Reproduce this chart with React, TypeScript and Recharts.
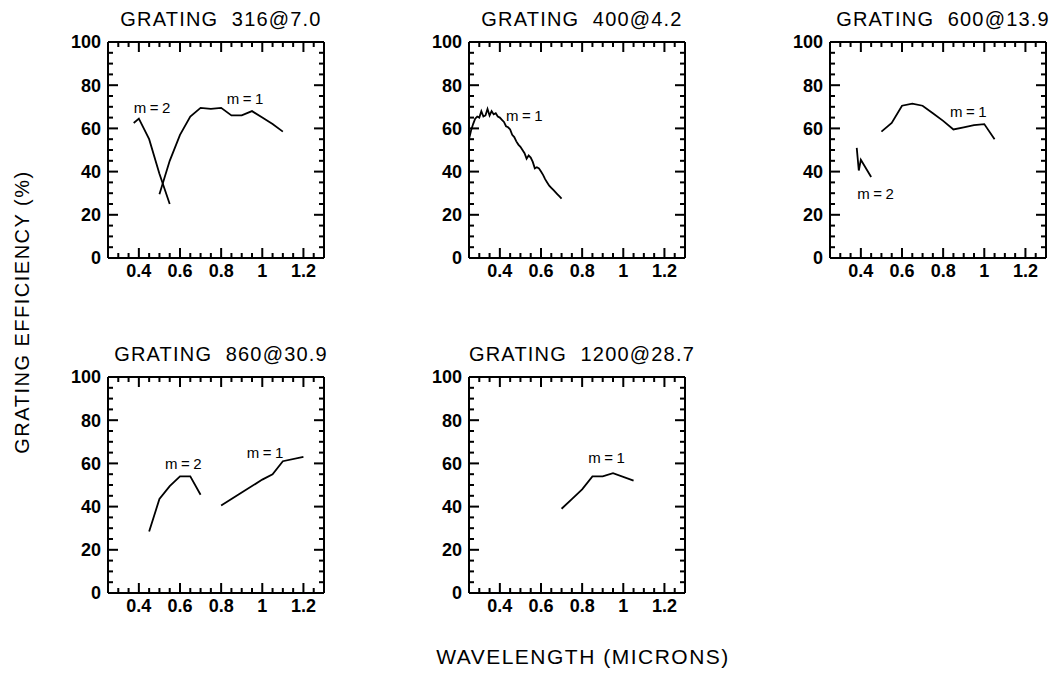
import React from "react";
import { LineChart, Line, XAxis, YAxis, ReferenceDot } from "recharts";

// wavelength ticks (microns), every 0.05, labels on the 0.2 steps
const xTicks = [
  0.3, 0.35, 0.4, 0.45, 0.5, 0.55, 0.6, 0.65, 0.7, 0.75, 0.8, 0.85, 0.9, 0.95, 1, 1.05, 1.1,
  1.15, 1.2, 1.25,
];
const xMajor = [0.4, 0.6, 0.8, 1, 1.2];
const yTicks = [
  0, 5, 10, 15, 20, 25, 30, 35, 40, 45, 50, 55, 60, 65, 70, 75, 80, 85, 90, 95, 100,
];
const yMajor = [0, 20, 40, 60, 80, 100];

// GRATING 316@7.0
const g316M2Wl = [0.375, 0.4, 0.45, 0.5, 0.55];
const g316M2Eff = [62.5, 64.5, 55, 39, 25];
const g316M1Wl = [0.5, 0.55, 0.6, 0.65, 0.7, 0.75, 0.8, 0.85, 0.9, 0.95, 1.0, 1.05, 1.1];
const g316M1Eff = [29.5, 45, 57, 65.5, 69.5, 69, 69.5, 66, 66, 68, 65, 62, 58.5];

// GRATING 400@4.2
const g400M1Wl = [
  0.25, 0.26, 0.27, 0.28, 0.29, 0.3, 0.31, 0.32, 0.33, 0.34, 0.35, 0.36, 0.37, 0.38, 0.39, 0.4,
  0.41, 0.42, 0.43, 0.44, 0.45, 0.46, 0.47, 0.48, 0.49, 0.5, 0.51, 0.52, 0.53, 0.54, 0.55, 0.56,
  0.57, 0.58, 0.59, 0.6, 0.61, 0.62, 0.63, 0.64, 0.65, 0.66, 0.67, 0.68, 0.69, 0.7,
];
const g400M1Eff = [
  55, 59, 62, 64.5, 65.5, 65, 68, 65.5, 66, 69, 66, 68, 66.5, 67, 65.5, 65, 64, 63, 61, 60.5,
  59.5, 57, 56, 54, 52.5, 51.5, 50, 48.5, 46, 47.5, 46.5, 44.5, 41.5, 42, 41.5, 40, 38.5, 36.5,
  35, 33.5, 32.5, 31.5, 30.5, 29.5, 28.5, 27.5,
];

// GRATING 600@13.9
const g600M1Wl = [0.5, 0.55, 0.6, 0.65, 0.7, 0.75, 0.8, 0.85, 0.9, 0.95, 1.0, 1.05];
const g600M1Eff = [58.5, 62.5, 70.5, 71.5, 70.5, 67, 63.5, 59.5, 60.5, 61.5, 62, 55];
const g600M2Wl = [0.38, 0.39, 0.4, 0.45];
const g600M2Eff = [51, 40.5, 45.5, 37.5];

// GRATING 860@30.9
const g860M2Wl = [0.45, 0.5, 0.55, 0.6, 0.65, 0.7];
const g860M2Eff = [28.5, 43.5, 49.5, 54, 54, 45.5];
const g860M1Wl = [0.8, 0.9, 1.0, 1.05, 1.1, 1.2];
const g860M1Eff = [40.5, 46.5, 52.5, 55, 61, 63];

// GRATING 1200@28.7
const g1200M1Wl = [0.7, 0.75, 0.8, 0.85, 0.9, 0.95, 1.05];
const g1200M1Eff = [39, 43.5, 48, 54, 54, 55.5, 52];

type Pt = { x: number; y: number };
type Note = { text: string; x: number; y: number };

const zip = (wl: number[], eff: number[]): Pt[] => wl.map((x, i) => ({ x, y: eff[i] }));

const FONT = "'Liberation Sans', Arial, sans-serif";
const BOX = 216;
const PAD_L = 60;
const PAD_T = 10;

const panels: { title: string; left: number; top: number; series: Pt[][]; notes: Note[] }[] = [
  {
    title: "GRATING  316@7.0",
    left: 108,
    top: 42,
    series: [zip(g316M2Wl, g316M2Eff), zip(g316M1Wl, g316M1Eff)],
    notes: [
      { text: "m=2", x: 0.375, y: 69.5 },
      { text: "m=1", x: 0.827, y: 74 },
    ],
  },
  {
    title: "GRATING  400@4.2",
    left: 469,
    top: 42,
    series: [zip(g400M1Wl, g400M1Eff)],
    notes: [{ text: "m=1", x: 0.43, y: 66 }],
  },
  {
    title: "GRATING  600@13.9",
    left: 830,
    top: 42,
    series: [zip(g600M1Wl, g600M1Eff), zip(g600M2Wl, g600M2Eff)],
    notes: [
      { text: "m=1", x: 0.833, y: 68 },
      { text: "m=2", x: 0.383, y: 29.8 },
    ],
  },
  {
    title: "GRATING  860@30.9",
    left: 108,
    top: 377,
    series: [zip(g860M2Wl, g860M2Eff), zip(g860M1Wl, g860M1Eff)],
    notes: [
      { text: "m=2", x: 0.527, y: 60 },
      { text: "m=1", x: 0.924, y: 65 },
    ],
  },
  {
    title: "GRATING  1200@28.7",
    left: 469,
    top: 377,
    series: [zip(g1200M1Wl, g1200M1Eff)],
    notes: [{ text: "m=1", x: 0.83, y: 62.7 }],
  },
];

const tickLabel = { fontFamily: FONT, fontSize: 18, fontWeight: 700, fill: "#000" };
const TICK_W = 2;

// ticks point inward, IDL style
const BottomTick = (p: any) => {
  const major = xMajor.includes(p.payload.value);
  return (
    <g>
      <rect x={p.x - TICK_W / 2} y={p.y - (major ? 10 : 5)} width={TICK_W} height={major ? 10 : 5} fill="#000" />
      {major && (
        <text x={p.x} y={p.y + 19} textAnchor="middle" style={tickLabel}>
          {String(p.payload.value)}
        </text>
      )}
    </g>
  );
};

const TopTick = (p: any) => {
  const major = xMajor.includes(p.payload.value);
  return (
    <rect x={p.x - TICK_W / 2} y={p.y} width={TICK_W} height={major ? 10 : 5} fill="#000" />
  );
};

const LeftTick = (p: any) => {
  const major = yMajor.includes(p.payload.value);
  return (
    <g>
      <rect x={p.x} y={p.y - TICK_W / 2} width={major ? 10 : 5} height={TICK_W} fill="#000" />
      {major && (
        <text x={p.x - 7} y={p.y} dy="0.36em" textAnchor="end" style={tickLabel}>
          {String(p.payload.value)}
        </text>
      )}
    </g>
  );
};

const RightTick = (p: any) => {
  const major = yMajor.includes(p.payload.value);
  const len = major ? 10 : 5;
  return <rect x={p.x - len} y={p.y - TICK_W / 2} width={len} height={TICK_W} fill="#000" />;
};

const axisLine = { stroke: "#000", strokeWidth: 2 };

function Panel({ left, top, series, notes }: (typeof panels)[number]) {
  return (
    <div style={{ position: "absolute", left: left - PAD_L, top: top - PAD_T - 1 }}>
      <LineChart
        width={PAD_L + BOX + 10}
        height={PAD_T + 1 + BOX + 30}
        margin={{ top: PAD_T, right: 9, bottom: 0, left: 0 }}
      >
        <XAxis
          dataKey="x"
          type="number"
          domain={[0.25, 1.3]}
          allowDataOverflow
          ticks={xTicks}
          interval={0}
          height={30}
          tickSize={0}
          tickMargin={0}
          tickLine={false}
          axisLine={axisLine}
          tick={BottomTick}
        />
        <XAxis
          xAxisId="top"
          orientation="top"
          dataKey="x"
          type="number"
          domain={[0.25, 1.3]}
          allowDataOverflow
          ticks={xTicks}
          interval={0}
          height={1}
          tickSize={0}
          tickMargin={0}
          tickLine={false}
          axisLine={axisLine}
          tick={TopTick}
        />
        <YAxis
          type="number"
          domain={[0, 100]}
          allowDataOverflow
          ticks={yTicks}
          interval={0}
          width={PAD_L}
          tickSize={0}
          tickMargin={0}
          tickLine={false}
          axisLine={axisLine}
          tick={LeftTick}
        />
        <YAxis
          yAxisId="right"
          orientation="right"
          type="number"
          domain={[0, 100]}
          allowDataOverflow
          ticks={yTicks}
          interval={0}
          width={1}
          tickSize={0}
          tickMargin={0}
          tickLine={false}
          axisLine={axisLine}
          tick={RightTick}
        />
        {series.map((d, i) => (
          <Line
            key={i}
            data={d}
            dataKey="y"
            type="linear"
            stroke="#000"
            strokeWidth={1.8}
            dot={false}
            activeDot={false}
            isAnimationActive={false}
          />
        ))}
        {notes.map((n, i) => (
          <ReferenceDot
            key={`n${i}`}
            x={n.x}
            y={n.y}
            r={0}
            fill="none"
            stroke="none"
            label={(lp: any) => (
              <text
                x={lp.viewBox.x}
                y={lp.viewBox.y}
                dy="0.36em"
                style={{ fontFamily: FONT, fontSize: 15, letterSpacing: 3.5, fill: "#000" }}
              >
                {n.text}
              </text>
            )}
          />
        ))}
      </LineChart>
    </div>
  );
}

export default function App() {
  return (
    <div
      style={{
        position: "absolute",
        left: 0,
        top: 0,
        width: 1060,
        height: 673,
        background: "#fff",
        fontFamily: FONT,
      }}
    >
      {panels.map((p) => (
        <Panel key={p.title} {...p} />
      ))}
      <svg width={1060} height={673} style={{ position: "absolute", left: 0, top: 0, pointerEvents: "none" }}>
        {panels.map((p) => (
          <text
            key={p.title}
            x={p.left + BOX / 2 + 5}
            y={p.top - 16}
            textAnchor="middle"
            style={{ fontFamily: FONT, fontSize: 20, letterSpacing: 1.2, fill: "#000", whiteSpace: "pre" }}
          >
            {p.title}
          </text>
        ))}
        <text
          x={0}
          y={0}
          transform="translate(29 312) rotate(-90)"
          textAnchor="middle"
          style={{ fontFamily: FONT, fontSize: 20, letterSpacing: 1.5, fill: "#000" }}
        >
          GRATING EFFICIENCY (%)
        </text>
        <text
          x={583}
          y={664}
          textAnchor="middle"
          style={{ fontFamily: FONT, fontSize: 21, letterSpacing: 1.5, fill: "#000" }}
        >
          WAVELENGTH (MICRONS)
        </text>
      </svg>
    </div>
  );
}
